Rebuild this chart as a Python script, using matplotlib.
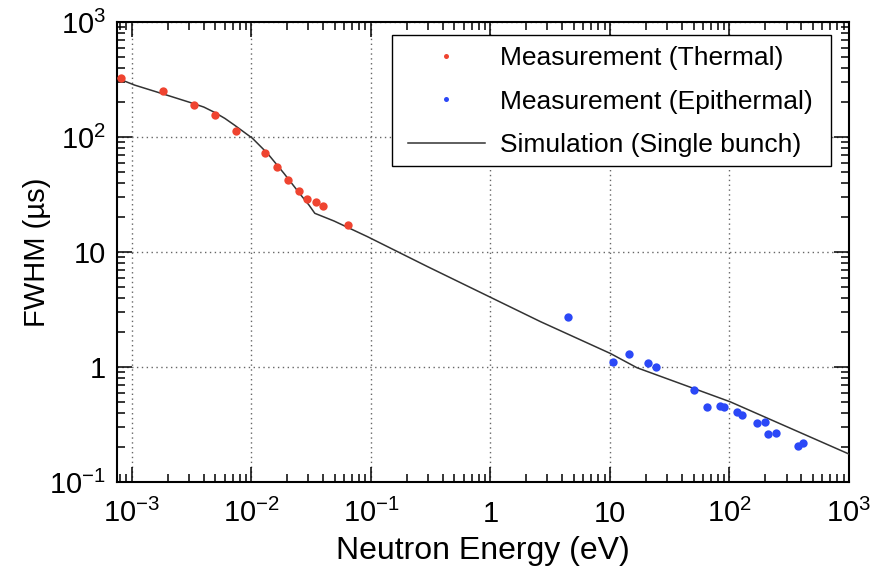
import numpy as np
import matplotlib
matplotlib.use("Agg")
import matplotlib.pyplot as plt
from matplotlib.patches import Rectangle
from matplotlib.ticker import LogLocator, NullFormatter, FixedLocator, FixedFormatter

plt.rcParams['font.family'] = ['Liberation Sans', 'DejaVu Sans']
plt.rcParams['mathtext.fontset'] = 'custom'
plt.rcParams['mathtext.rm'] = 'Liberation Sans'
plt.rcParams['mathtext.it'] = 'Liberation Sans:italic'
plt.rcParams['mathtext.bf'] = 'Liberation Sans:bold'

# Thermal measurements
thermal_E = [8.1e-4, 1.82e-3, 3.3e-3, 5.0e-3, 7.4e-3, 1.29e-2, 1.63e-2, 2.01e-2,
             2.49e-2, 2.9e-2, 3.45e-2, 3.95e-2, 6.4e-2]
thermal_fwhm = [326, 251, 190, 155, 113, 72.6, 54.8, 42.3, 33.9, 28.9, 27.2, 25.1, 17.2]

# Epithermal measurements
epi_E = [4.42, 10.6, 14.3, 20.8, 24.4, 50.3, 64.6, 84.0, 90.7, 116, 128, 169, 198,
         211, 247, 372, 414]
epi_fwhm = [2.71, 1.10, 1.29, 1.09, 1.0, 0.627, 0.449, 0.46, 0.452, 0.406, 0.38,
            0.324, 0.330, 0.260, 0.269, 0.207, 0.217]

# Simulation (single bunch)
sim_E = [7.5e-4, 8.9e-4, 1.05e-3, 1.75e-3, 3.1e-3, 4.0e-3, 4.9e-3, 6.0e-3, 7.2e-3,
         1.02e-2, 1.36e-2, 1.87e-2, 2.59e-2, 3.03e-2, 3.39e-2, 4.91e-2, 9.34e-2, 0.3,
         2.62, 10.1, 16.8, 101, 1000]
sim_fwhm = [326, 303, 283, 240, 199, 182, 164, 145, 127, 97.4, 72.2,
            48.3, 31.3, 25.6, 21.7, 18.6, 13.6, 7.43, 2.48, 1.31, 0.986,
            0.499, 0.175]

x_ticks = [1e-3, 1e-2, 1e-1, 1, 10, 1e2, 1e3]
x_ticklabels = ['$10^{-3}$', '$10^{-2}$', '$10^{-1}$', '1', '10', '$10^{2}$', '$10^{3}$']
y_ticks = [1e-1, 1, 10, 1e2, 1e3]
y_ticklabels = ['$10^{-1}$', '1', '10', '$10^{2}$', '$10^{3}$']

fig = plt.figure(figsize=(8.74, 5.81), dpi=100)
ax = fig.add_axes([117/874, 1-482/581, (849-117)/874, (482-22)/581])

ax.plot(sim_E, sim_fwhm, color='#333333', lw=1.1, label='Simulation (Single bunch)', zorder=3)
ax.plot(thermal_E, thermal_fwhm, 'o', color='#ef4430', ms=6, mew=0,
        label='Measurement (Thermal)', zorder=4)
ax.plot(epi_E, epi_fwhm, 'o', color='#2b48f7', ms=6, mew=0,
        label='Measurement (Epithermal)', zorder=4)

ax.set_xscale('log')
ax.set_yscale('log')
ax.set_xlim(7.5e-4, 1e3)
ax.set_ylim(0.1, 1e3)

ax.xaxis.set_major_locator(FixedLocator(x_ticks))
ax.xaxis.set_major_formatter(FixedFormatter(x_ticklabels))
ax.yaxis.set_major_locator(FixedLocator(y_ticks))
ax.yaxis.set_major_formatter(FixedFormatter(y_ticklabels))
ax.xaxis.set_minor_locator(LogLocator(base=10, subs=np.arange(2, 10), numticks=20))
ax.yaxis.set_minor_locator(LogLocator(base=10, subs=np.arange(2, 10), numticks=20))
ax.xaxis.set_minor_formatter(NullFormatter())
ax.yaxis.set_minor_formatter(NullFormatter())

ax.tick_params(which='both', direction='in', top=True, right=True, width=1.1, colors='black')
ax.tick_params(which='major', length=11)
ax.tick_params(which='minor', length=6)
ax.tick_params(axis='y', which='major', labelsize=21, pad=8)
ax.tick_params(axis='x', which='major', labelsize=21, pad=29)
for lab in ax.get_xticklabels():
    lab.set_verticalalignment('baseline')

for sp in ax.spines.values():
    sp.set_linewidth(1.5)

ax.grid(True, which='major', linestyle=(0, (1, 2.5)), color='#666666', linewidth=1.0)

ax.set_xlabel('Neutron Energy (eV)', fontsize=23)
ax.set_ylabel('FWHM (µs)', fontsize=21)
ax.xaxis.set_label_coords(0.5, -0.118)
ax.yaxis.set_label_coords(-0.09, 0.5)

# Legend frame (drawn as a plain rectangle in figure coordinates)
frame = Rectangle((392/874, 1-166/581), (831-392)/874, (166-35)/581,
                  transform=fig.transFigure, facecolor='white', edgecolor='black',
                  linewidth=1.0, zorder=5)
ax.add_artist(frame)
frame.set_clip_on(False)

handles, labels = ax.get_legend_handles_labels()
order = [1, 2, 0]
leg = ax.legend([handles[i] for i in order], [labels[i] for i in order],
                loc='upper left', bbox_to_anchor=(392/874, 1-30/581),
                bbox_transform=fig.transFigure, fontsize=19, frameon=False,
                handlelength=2.92, handletextpad=0.57, labelspacing=0.75,
                borderpad=0.6, borderaxespad=0, markerscale=0.6)
leg.set_zorder(6)

fig.savefig('out.png', dpi=100)
